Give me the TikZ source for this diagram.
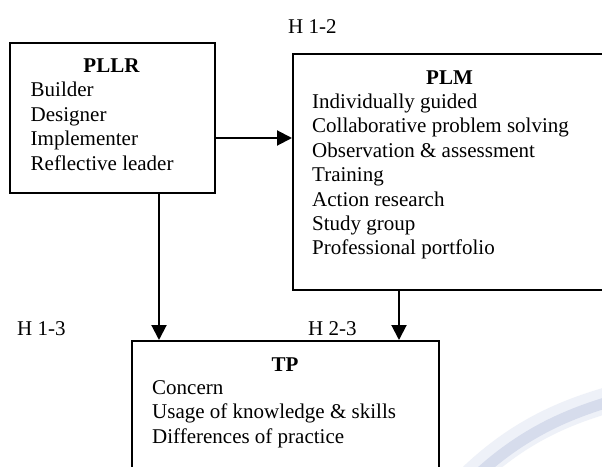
\documentclass[tikz,border=0pt]{standalone}
\usepackage{fontspec}
\setmainfont{Liberation Serif}
\usetikzlibrary{arrows.meta}

\definecolor{wmark}{RGB}{214,220,236}
\definecolor{wmarksoft}{RGB}{238,241,248}

\newcommand{\boxfont}{\fontsize{21}{24.4}\selectfont}

\tikzset{
  box/.style={draw, line width=2pt, anchor=north west, inner sep=0pt},
  head/.style={font=\boxfont\bfseries, anchor=base, inner sep=0pt},
  item/.style={anchor=base west, inner sep=0pt},
  hlab/.style={anchor=base west, inner sep=0pt},
  arr/.style={line width=2pt, -{Triangle[length=15pt,width=15pt]}}
}

\begin{document}
\begin{tikzpicture}[x=1pt, y=-1pt, font=\boxfont]
\clip (0,0) rectangle (602,466);
\fill[white] (0,0) rectangle (602,466);

% faint arc in the lower right corner
\draw[wmarksoft, line width=26pt] (462,486) .. controls (515,432) and (565,412) .. (615,398);
\draw[wmark, line width=11pt] (466,486) .. controls (518,434) and (567,414) .. (615,400);

% the three boxes (PLM runs past the right edge, TP past the bottom)
\node[box, minimum width=205pt, minimum height=150pt] (pllr) at (9,42) {};
\node[box, minimum width=328pt, minimum height=236pt] (plm) at (292,53) {};
\node[box, minimum width=307pt, minimum height=160pt] (tp) at (131,340) {};

% box contents
\node[head] (pllrh) at (111.5,72.5) {PLLR};
\foreach \t [count=\i] in {Builder, Designer, Implementer, Reflective leader}
  \node[item] (pllr-\i) at (30.5,{72.5+24.4*\i}) {\t};

\node[head] (plmh) at (449.5,84.5) {PLM};
\foreach \t [count=\i] in {Individually guided, Collaborative problem solving,
    Observation \& assessment, Training, Action research, Study group,
    Professional portfolio}
  \node[item] (plm-\i) at (312,{84.1+24.4*\i}) {\t};

\node[head] (tph) at (285,371) {TP};
\foreach \t [count=\i] in {Concern, Usage of knowledge \& skills, Differences of practice}
  \node[item] (tp-\i) at (152,{370.5+24.2*\i}) {\t};

% hypothesis labels
\node[hlab] (h12) at (288,33) {H 1-2};
\node[hlab] (h13) at (17,335) {H 1-3};
\node[hlab] (h23) at (308,335) {H 2-3};

% links
\draw[arr] ([yshift=-20pt]pllr.east) -- ([yshift=-20pt]pllr.east -| plm.west);
\draw[arr] ([xshift=46.5pt]pllr.south) -- ([xshift=46.5pt]pllr.south |- tp.north);
\draw[arr] ([xshift=-58pt]plm.south) -- ([xshift=-58pt]plm.south |- tp.north);
\end{tikzpicture}
\end{document}
